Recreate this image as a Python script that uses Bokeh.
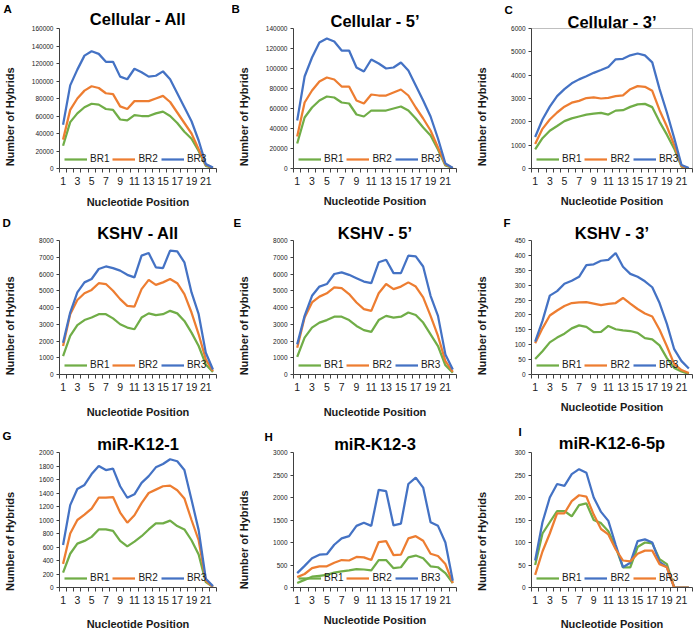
import math
from bokeh.plotting import figure
from bokeh.layouts import gridplot
from bokeh.models import (Range1d, FixedTicker, BasicTickFormatter, Legend,
                          LegendItem, Title)
from bokeh.embed import file_html
from bokeh.resources import INLINE

# ---------------- data ----------------
nt_positions = list(range(1, 23))
x_tick_values = list(range(1, 22, 2))
series_names = ["BR1", "BR2", "BR3"]

cell_all_br1 = [26000, 53000, 63000, 70000, 74000, 73000, 68000, 67000, 56000, 55000, 61000,
                60000, 60000, 63000, 65000, 60000, 52000, 42000, 34000, 20000, 3000, 500]
cell_all_br2 = [33000, 67000, 80000, 89000, 94000, 92000, 86000, 85000, 71000, 68000, 77000,
                77000, 77000, 80000, 83000, 76000, 64000, 52000, 40000, 22000, 4000, 500]
cell_all_br3 = [50000, 95000, 113000, 129000, 134000, 131000, 122000, 122000, 105000, 102000, 114000,
                110000, 105000, 106000, 111000, 102000, 86000, 70000, 54000, 32000, 5000, 1000]

cell_5p_br1 = [25000, 51000, 61000, 68000, 72000, 71000, 66000, 65000, 54000, 52000, 58000,
               58000, 58000, 60000, 62000, 58000, 50000, 41000, 33000, 19000, 3000, 500]
cell_5p_br2 = [32000, 66000, 78000, 87000, 91000, 89000, 82000, 82000, 68000, 65000, 74000,
               73000, 73000, 76000, 79000, 73000, 61000, 50000, 38000, 21000, 4000, 500]
cell_5p_br3 = [48000, 92000, 111000, 126000, 130000, 127000, 118000, 118000, 101000, 97000, 109000,
               105000, 100000, 101000, 106000, 98000, 83000, 68000, 52000, 30000, 5000, 500]

cell_3p_br1 = [820, 1300, 1620, 1820, 2030, 2150, 2230, 2310, 2350, 2380, 2310,
               2480, 2500, 2640, 2750, 2770, 2630, 2000, 1450, 850, 80, 10]
cell_3p_br2 = [1050, 1700, 2100, 2400, 2650, 2820, 2900, 3020, 3050, 3000, 3030,
               3100, 3130, 3400, 3530, 3500, 3330, 2500, 1800, 1000, 100, 10]
cell_3p_br3 = [1350, 2100, 2650, 3100, 3400, 3650, 3820, 3950, 4100, 4220, 4350,
               4680, 4700, 4850, 4930, 4850, 4550, 3400, 2400, 1300, 150, 20]

kshv_all_br1 = [1100, 2300, 2950, 3250, 3400, 3600, 3600, 3350, 3000, 2800, 2700,
                3400, 3650, 3550, 3600, 3800, 3650, 3200, 2500, 1700, 600, 150]
kshv_all_br2 = [1700, 3600, 4450, 4850, 5050, 5450, 5400, 5000, 4500, 4100, 4050,
                5100, 5650, 5350, 5500, 5700, 5450, 4800, 3700, 2400, 900, 200]
kshv_all_br3 = [1900, 3700, 4900, 5500, 5700, 6300, 6450, 6350, 6200, 5950, 5800,
                7100, 7250, 6400, 6350, 7400, 7350, 6700, 4900, 3600, 1300, 300]

kshv_5p_br1 = [1050, 2200, 2800, 3100, 3250, 3450, 3450, 3250, 2900, 2650, 2550,
               3250, 3500, 3400, 3450, 3700, 3550, 3100, 2400, 1700, 550, 100]
kshv_5p_br2 = [1600, 3400, 4300, 4650, 4850, 5200, 5150, 4800, 4300, 3900, 3800,
               4850, 5400, 5100, 5250, 5500, 5250, 4600, 3500, 2300, 800, 150]
kshv_5p_br3 = [1800, 3500, 4700, 5250, 5400, 6000, 6100, 5950, 5750, 5550, 5450,
               6700, 6850, 6050, 6050, 7100, 7050, 6450, 4700, 3500, 1200, 300]

kshv_3p_br1 = [52, 78, 108, 124, 137, 155, 165, 160, 142, 143, 163,
               152, 148, 146, 140, 122, 118, 98, 55, 22, 10, 2]
kshv_3p_br2 = [105, 155, 198, 215, 230, 240, 242, 243, 238, 233, 237,
               240, 257, 238, 220, 205, 195, 150, 95, 35, 15, 5]
kshv_3p_br3 = [110, 180, 265, 280, 305, 315, 328, 367, 370, 382, 385,
               408, 362, 338, 328, 313, 293, 240, 170, 85, 45, 20]

k12_1_br1 = [220, 500, 650, 690, 750, 860, 860, 840, 690, 610, 680,
             760, 860, 950, 950, 990, 910, 860, 700, 490, 80, 10]
k12_1_br2 = [350, 800, 1000, 1080, 1170, 1330, 1330, 1340, 1110, 960, 1070,
             1250, 1400, 1450, 1500, 1510, 1440, 1320, 1000, 700, 100, 10]
k12_1_br3 = [630, 1220, 1460, 1520, 1680, 1800, 1740, 1760, 1500, 1330, 1380,
             1550, 1650, 1780, 1830, 1900, 1870, 1740, 1300, 850, 130, 20]

k12_3_br1 = [100, 170, 240, 260, 280, 330, 360, 380, 410, 400, 380,
             610, 610, 430, 450, 670, 710, 650, 470, 450, 320, 100]
k12_3_br2 = [230, 300, 430, 470, 470, 550, 610, 600, 680, 670, 610,
             1010, 1030, 720, 730, 1090, 1140, 1040, 750, 700, 520, 100]
k12_3_br3 = [320, 480, 650, 730, 740, 950, 1090, 1140, 1370, 1440, 1370,
             2170, 2140, 1380, 1420, 2300, 2440, 2220, 1450, 1370, 1000, 150]

k12_6_br1 = [50, 120, 145, 170, 170, 158, 183, 187, 150, 143, 125,
             90, 45, 45, 90, 100, 98, 63, 52, 0, 0, 0]
k12_6_br2 = [60, 145, 200, 230, 226, 252, 263, 255, 200, 168, 148,
             95, 45, 55, 103, 107, 100, 57, 45, 0, 0, 0]
k12_6_br3 = [28, 80, 120, 165, 165, 192, 205, 202, 162, 130, 118,
             85, 60, 58, 75, 82, 82, 52, 45, 0, 0, 0]

panel_letters = ["A", "B", "C", "D", "E", "F", "G", "H", "I"]
panel_titles = ["Cellular - All", "Cellular - 5\u2019", "Cellular - 3\u2019",
                "KSHV - All", "KSHV - 5\u2019", "KSHV - 3\u2019",
                "miR-K12-1", "miR-K12-3", "miR-K12-6-5p"]
panel_series = [
    [cell_all_br1, cell_all_br2, cell_all_br3],
    [cell_5p_br1, cell_5p_br2, cell_5p_br3],
    [cell_3p_br1, cell_3p_br2, cell_3p_br3],
    [kshv_all_br1, kshv_all_br2, kshv_all_br3],
    [kshv_5p_br1, kshv_5p_br2, kshv_5p_br3],
    [kshv_3p_br1, kshv_3p_br2, kshv_3p_br3],
    [k12_1_br1, k12_1_br2, k12_1_br3],
    [k12_3_br1, k12_3_br2, k12_3_br3],
    [k12_6_br1, k12_6_br2, k12_6_br3],
]
y_max = [160000, 140000, 6000, 8000, 8000, 450, 2000, 3000, 300]
y_step = [20000, 20000, 1000, 1000, 1000, 50, 200, 500, 50]
y_title = "Number of Hybrids"
x_title = "Nucleotide Position"

# ---------------- style ----------------
GREEN, ORANGE, BLUE = "#70AD47", "#ED7D31", "#4472C4"
panel_colors = [[GREEN, ORANGE, BLUE]] * 8 + [[GREEN, BLUE, ORANGE]]
FONT = "Liberation Sans"
TXT = "#1a1a1a"
AXC = "#404040"
YTICK_PX = 6.5
LETTER_PX = 11.5
TITLE_PX = 16.5
YTITLE_PX = 11

# reference geometry (cell-local px): L, R, T, B, letter_x, letter_base,
# title_base, xtitle_base_below_axis, ytitle_center_above_bottom
GEOM = [
    (54, 216, 27, 169, -2, 11, 23, 38, 53),
    (61, 224, 28, 170, -1, 12, 26, 37, 53),
    (67, 230, 27, 169, 40, 12, 26, 37, 52),
    (54, 218, 29, 167, -3, 15, 27, 43, 50),
    (58, 225, 29, 167, -2, 15, 27, 44, 50),
    (65, 230, 30, 169, 37, 16, 28, 37, 51),
    (54, 216, 32, 170, -3, 19, 29, 41, 48),
    (61, 226, 32, 173, 32, 20, 29, 37, 50),
    (67, 228, 32, 170, 54, 15, 28, 41, 48),
]
CW = [232, 232, 232]
RH = [210, 210, 212]


def make_title(text, size, **kw):
    st = kw.pop("standoff")
    try:
        t = Title(text=text, standoff=st, **kw)
    except Exception:
        t = Title(text=text, standoff=0, **kw)
    t.text_font = FONT
    t.text_font_style = "bold"
    t.text_font_size = "%spx" % size
    t.text_color = "#000000"
    return t


figs = []
for k in range(9):
    r, c = divmod(k, 3)
    W, H = CW[c], RH[r]
    L, R, T, B, lx, lb, tb, xb, yc = GEOM[k]
    left, right, top, bottom = L, W - R, T, H - B

    p = figure(width=W, height=H, output_backend="svg", toolbar_location=None,
               x_range=Range1d(0.5, 22.5), y_range=Range1d(0, y_max[k]),
               min_border_left=left, min_border_right=right,
               min_border_top=top, min_border_bottom=bottom)
    p.title.visible = False
    p.xgrid.visible = False
    p.ygrid.visible = False
    if k == 2:
        p.outline_line_color = "#BFBFBF"
        p.outline_line_width = 1
    else:
        p.outline_line_color = None
    p.background_fill_color = "white"
    p.border_fill_color = "white"

    # x axis (category-style: marks between positions, labels at odd positions)
    x_std = min(xb - 29.7, bottom - 31)
    xa = p.xaxis[0]
    xa.ticker = FixedTicker(ticks=x_tick_values,
                            minor_ticks=[i + 0.5 for i in range(0, 23)])
    xa.major_tick_out = 0
    xa.major_tick_in = 0
    xa.minor_tick_out = 4
    xa.minor_tick_in = 0
    xa.minor_tick_line_color = AXC
    xa.axis_line_color = AXC
    xa.major_label_standoff = 4
    xa.major_label_text_font = FONT
    xa.major_label_text_font_size = "10.5px"
    xa.major_label_text_color = TXT
    xa.axis_label = x_title
    xa.axis_label_standoff = int(round(x_std))
    xa.axis_label_text_font = FONT
    xa.axis_label_text_font_style = "bold"
    xa.axis_label_text_font_size = "11px"
    xa.axis_label_text_color = TXT

    # y axis; the title sits a little below the frame's middle, as in the
    # reference, which is done by trailing non-breaking spaces
    wlab = len(str(y_max[k])) * 0.556 * YTICK_PX
    y_std = int(round(47 - 6 - wlab - 6.15))
    shift = (B - yc) - (T + B) / 2.0
    n_pad = max(0, int(round(2 * shift / (0.278 * YTITLE_PX))))
    ya = p.yaxis[0]
    ya.ticker = FixedTicker(ticks=list(range(0, y_max[k] + 1, y_step[k])))
    ya.formatter = BasicTickFormatter(use_scientific=False)
    ya.major_tick_out = 3
    ya.major_tick_in = 0
    ya.minor_tick_out = 0
    ya.minor_tick_in = 0
    ya.major_tick_line_color = AXC
    ya.axis_line_color = AXC
    ya.major_label_standoff = 3
    ya.major_label_text_font = FONT
    ya.major_label_text_font_size = "%spx" % YTICK_PX
    ya.major_label_text_color = TXT
    ya.axis_label = y_title + "\u00a0" * n_pad
    ya.axis_label_standoff = y_std
    ya.axis_label_text_font = FONT
    ya.axis_label_text_font_style = "bold"
    ya.axis_label_text_font_size = "%spx" % YTITLE_PX
    ya.axis_label_text_color = TXT

    items = []
    for name, vals, col in zip(series_names, panel_series[k], panel_colors[k]):
        rnd = p.line(nt_positions, vals, line_color=col, line_width=2.25)
        items.append(LegendItem(label=name, renderers=[rnd]))
    leg = Legend(items=items, orientation="horizontal", location=(5, 4),
                 glyph_width=23, glyph_height=10, label_standoff=3, spacing=3,
                 padding=0, margin=0, border_line_color=None,
                 background_fill_alpha=0, label_text_font=FONT,
                 label_text_font_size="10px", label_text_color=TXT,
                 label_height=10, label_width=0)
    p.add_layout(leg)

    # panel title (closest to the frame), then the panel letter above it
    st_t = 2 * (T - 0.212 * TITLE_PX - tb)
    p.add_layout(make_title(panel_titles[k], TITLE_PX, align="center",
                            standoff=st_t), "above")
    slot_t = 2 + 1.117 * TITLE_PX + st_t
    st_l = 2 * (T - slot_t - 0.212 * LETTER_PX - lb)
    p.add_layout(make_title(panel_letters[k], LETTER_PX, align="left",
                            offset=lx - L, standoff=st_l), "above")
    figs.append(p)

grid = gridplot([figs[0:3], figs[3:6], figs[6:9]], toolbar_location=None)

open("out.html", "w").write(file_html(grid, INLINE))
